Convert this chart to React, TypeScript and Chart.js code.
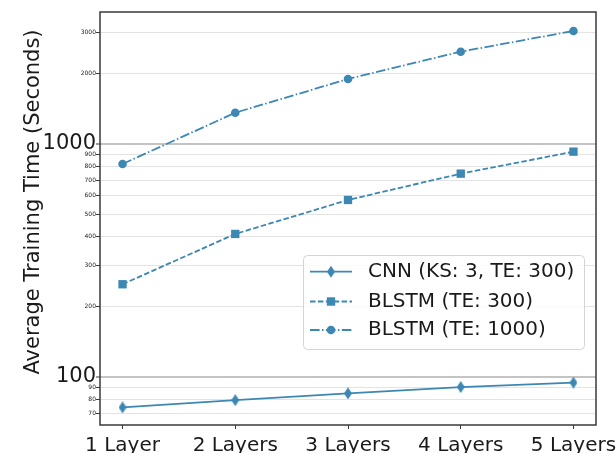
import React, { useEffect, useRef } from "react";
import { Chart, registerables } from "chart.js";

Chart.register(...registerables);

const categories = ["1 Layer", "2 Layers", "3 Layers", "4 Layers", "5 Layers"];
const cnnValues = [74, 79.5, 85, 90.5, 94.5];
const blstm300Values = [250, 411, 575, 746, 927];
const blstm1000Values = [821, 1362, 1901, 2490, 3055];
const yTickValues = [70, 80, 90, 100, 200, 300, 400, 500, 600, 700, 800, 900, 1000, 2000, 3000];
const majorTickValues = [100, 1000];
const seriesLabels = ["CNN (KS: 3, TE: 300)", "BLSTM (TE: 300)", "BLSTM (TE: 1000)"];
const yTitle = "Average Training Time (Seconds)";

const COLOR = "#3d87b3";
const FONT = '"DejaVu Sans", sans-serif';

function makeThinDiamond(): HTMLCanvasElement {
  const c = document.createElement("canvas");
  c.width = 8;
  c.height = 12;
  const g = c.getContext("2d")!;
  g.fillStyle = COLOR;
  g.beginPath();
  g.moveTo(4, 0);
  g.lineTo(8, 6);
  g.lineTo(4, 12);
  g.lineTo(0, 6);
  g.closePath();
  g.fill();
  return c;
}

const DASHES = [[], [5.5, 2.4], [9.6, 2.4, 1.5, 2.4]];

function drawMarker(ctx: CanvasRenderingContext2D, kind: number, x: number, y: number) {
  ctx.save();
  ctx.setLineDash([]);
  ctx.fillStyle = COLOR;
  ctx.beginPath();
  if (kind === 0) {
    ctx.moveTo(x, y - 6);
    ctx.lineTo(x + 4, y);
    ctx.lineTo(x, y + 6);
    ctx.lineTo(x - 4, y);
    ctx.closePath();
  } else if (kind === 1) {
    ctx.rect(x - 4.2, y - 4.2, 8.4, 8.4);
  } else {
    ctx.arc(x, y, 4.3, 0, Math.PI * 2);
  }
  ctx.fill();
  ctx.restore();
}

const decorPlugin = {
  id: "decor",
  afterDraw(chart: any) {
    const ctx: CanvasRenderingContext2D = chart.ctx;
    const a = chart.chartArea;
    ctx.save();
    // frame
    ctx.strokeStyle = "#3a3a3a";
    ctx.lineWidth = 1.5;
    ctx.setLineDash([]);
    ctx.strokeRect(a.left, a.top, a.right - a.left, a.bottom - a.top);

    // y title
    ctx.save();
    ctx.translate(34, 202);
    ctx.rotate(-Math.PI / 2);
    ctx.fillStyle = "#1a1a1a";
    ctx.font = `21px ${FONT}`;
    ctx.textAlign = "center";
    ctx.textBaseline = "middle";
    ctx.fillText(yTitle, 0, 0);
    ctx.restore();

    // legend
    const bx = 303.5, by = 255.5, bw = 281, bh = 94, r = 4;
    ctx.beginPath();
    ctx.moveTo(bx + r, by);
    ctx.lineTo(bx + bw - r, by);
    ctx.arcTo(bx + bw, by, bx + bw, by + r, r);
    ctx.lineTo(bx + bw, by + bh - r);
    ctx.arcTo(bx + bw, by + bh, bx + bw - r, by + bh, r);
    ctx.lineTo(bx + r, by + bh);
    ctx.arcTo(bx, by + bh, bx, by + bh - r, r);
    ctx.lineTo(bx, by + r);
    ctx.arcTo(bx, by, bx + r, by, r);
    ctx.closePath();
    ctx.fillStyle = "rgba(255,255,255,0.85)";
    ctx.fill();
    ctx.strokeStyle = "#d4d4d4";
    ctx.lineWidth = 1;
    ctx.stroke();

    const rows = [271.7, 301.5, 330];
    seriesLabels.forEach((lab, i) => {
      const y = rows[i];
      ctx.save();
      ctx.strokeStyle = COLOR;
      ctx.lineWidth = 1.8;
      ctx.setLineDash(DASHES[i]);
      ctx.beginPath();
      ctx.moveTo(310, y);
      ctx.lineTo(352, y);
      ctx.stroke();
      ctx.restore();
      drawMarker(ctx, i, 331, y);
      ctx.fillStyle = "#1a1a1a";
      ctx.font = `20px ${FONT}`;
      ctx.textAlign = "left";
      ctx.textBaseline = "middle";
      ctx.fillText(lab, 368, y);
    });
    ctx.restore();
  },
};

export default function App() {
  const ref = useRef<HTMLCanvasElement | null>(null);
  useEffect(() => {
    document.body.style.margin = "0";
    const diamond = makeThinDiamond();
    const toPts = (vals: number[]) => vals.map((v, i) => ({ x: i, y: v }));
    const isMajor = (v: number) => majorTickValues.includes(v);
    const chart = new Chart(ref.current!, {
      type: "line",
      data: {
        datasets: [
          {
            label: seriesLabels[0],
            data: toPts(cnnValues),
            borderColor: COLOR,
            backgroundColor: COLOR,
            borderWidth: 1.8,
            pointStyle: diamond as any,
            pointRadius: 5,
          },
          {
            label: seriesLabels[1],
            data: toPts(blstm300Values),
            borderColor: COLOR,
            backgroundColor: COLOR,
            borderWidth: 1.8,
            borderDash: DASHES[1],
            pointStyle: "rect",
            pointRadius: 5.9,
            pointBorderWidth: 0,
          },
          {
            label: seriesLabels[2],
            data: toPts(blstm1000Values),
            borderColor: COLOR,
            backgroundColor: COLOR,
            borderWidth: 1.8,
            borderDash: DASHES[2],
            pointStyle: "circle",
            pointRadius: 4.3,
            pointBorderWidth: 0,
          },
        ],
      },
      options: {
        animation: false,
        responsive: false,
        layout: { padding: { left: 0, top: 12, right: 20, bottom: 0 } },
        plugins: { legend: { display: false }, tooltip: { enabled: false }, title: { display: false } },
        scales: {
          x: {
            type: "linear",
            min: -0.2,
            max: 4.2,
            afterBuildTicks: (s: any) => {
              s.ticks = categories.map((_, i) => ({ value: i }));
            },
            afterFit: (s: any) => {
              s.height = 28;
              s.paddingLeft = 0;
              s.paddingRight = 0;
            },
            border: { display: false },
            grid: {
              drawOnChartArea: false,
              drawTicks: true,
              tickLength: 4,
              tickColor: "#3a3a3a",
              tickWidth: 1,
            },
            ticks: {
              autoSkip: false,
              maxRotation: 0,
              padding: 5,
              color: "#1a1a1a",
              font: { family: FONT, size: 20 },
              callback: (v: any) => categories[Math.round(Number(v))] ?? "",
            },
          },
          y: {
            type: "logarithmic",
            min: 62.2,
            max: 3686,
            afterBuildTicks: (s: any) => {
              s.ticks = yTickValues.map((v) => ({ value: v, major: isMajor(v) }));
            },
            afterFit: (s: any) => {
              s.width = 100;
              s.paddingTop = 0;
              s.paddingBottom = 0;
            },
            border: { display: false },
            grid: {
              drawTicks: true,
              tickLength: 4,
              tickColor: "#3a3a3a",
              tickWidth: 1,
              color: (c: any) => (c.tick && isMajor(c.tick.value) ? "#c4c4c4" : "#e3e3e3"),
              lineWidth: (c: any) => (c.tick && isMajor(c.tick.value) ? 2 : 1),
            },
            ticks: {
              autoSkip: false,
              padding: 0,
              color: "#1a1a1a",
              font: (c: any) => ({
                family: FONT,
                size: c.tick && isMajor(c.tick.value) ? 21 : 6,
              }),
              callback: (v: any) => String(v),
            },
          },
        },
      },
      plugins: [decorPlugin],
    });
    return () => chart.destroy();
  }, []);
  return (
    <div style={{ position: "absolute", left: 0, top: 0, width: 616, height: 453 }}>
      <canvas ref={ref} width={616} height={453} />
    </div>
  );
}
